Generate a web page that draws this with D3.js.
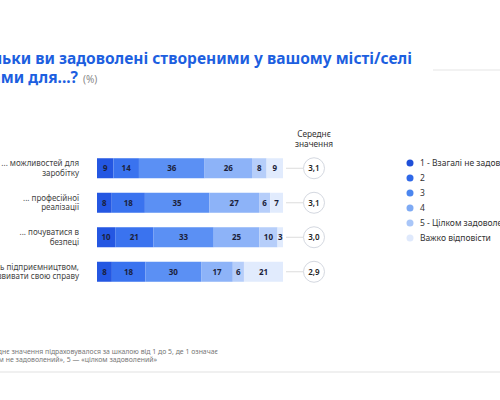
<!DOCTYPE html>
<html>
<head>
<meta charset="utf-8">
<script src="https://cdn.jsdelivr.net/npm/d3@7"></script>
<style>
  html, body { margin: 0; padding: 0; background: #fff; overflow: hidden; }
  svg { display: block; font-family: "Noto Sans", sans-serif; }
</style>
</head>
<body>
<svg id="chart" width="500" height="400"></svg>
<script>
// categories (each label split in two lines)
const categories = [
  ["... можливостей для", "заробітку"],
  ["... професійної", "реалізації"],
  ["... почуватися в", "безпеці"],
  ["... займатись підприємництвом,", "розвивати свою справу"]
];
// answer shares, %, in order 1,2,3,4,5,hard to say
const values = [
  [9, 14, 36, 26, 8, 9],
  [8, 18, 35, 27, 6, 7],
  [10, 21, 33, 25, 10, 3],
  [8, 18, 30, 17, 6, 21]
];
const averages = ["3,1", "3,1", "3,0", "2,9"];
const legendLabels = ["1 - Взагалі не задоволений", "2", "3", "4", "5 - Цілком задоволений", "Важко відповісти"];
const segColors = ["#2457e2", "#3a73ef", "#5b90f4", "#8db3f8", "#b6cefa", "#e1ebfd"];
const dotColors = ["#1f4fd8", "#2f68e8", "#4b86ef", "#7eaaf4", "#a9c6f8", "#dfe9fc"];

const svg = d3.select("#chart");

// top and bottom rules
svg.append("line").attr("x1", 433).attr("x2", 500).attr("y1", 70).attr("y2", 70)
  .attr("stroke", "#eeeeee").attr("stroke-width", 1.5);
svg.append("line").attr("x1", 0).attr("x2", 500).attr("y1", 372).attr("y2", 372)
  .attr("stroke", "#f0f0f0").attr("stroke-width", 2);

// title
svg.append("text").attr("x", 412).attr("y", 64).attr("text-anchor", "end")
  .attr("fill", "#1d5fe0").attr("font-weight", 700).attr("font-size", 15.5)
  .text("Наскільки ви задоволені створеними у вашому місті/селі");
svg.append("text").attr("x", 78).attr("y", 83).attr("text-anchor", "end")
  .attr("fill", "#1d5fe0").attr("font-weight", 700).attr("font-size", 15.5)
  .text("умовами для...?");
svg.append("text").attr("x", 83).attr("y", 83)
  .attr("fill", "#888").attr("font-size", 10)
  .text("(%)");

// layout
const y = d3.scaleBand().domain(d3.range(categories.length)).range([151, 289]).paddingInner(0.42).paddingOuter(0.21);
const barLeft = 97, barRight = 283;

const rows = svg.append("g").selectAll("g").data(values).join("g")
  .attr("transform", (d, i) => `translate(0,${y(i)})`);

rows.each(function(row, i) {
  const g = d3.select(this);
  const total = d3.sum(row);
  const x = d3.scaleLinear().domain([0, total]).range([barLeft, barRight]);
  let acc = 0;
  const segs = row.map((v, j) => { const s = { v, j, x0: acc }; acc += v; return s; });

  g.selectAll("rect").data(segs).join("rect")
    .attr("x", s => x(s.x0))
    .attr("width", s => x(s.x0 + s.v) - x(s.x0))
    .attr("y", 0).attr("height", y.bandwidth())
    .attr("fill", s => segColors[s.j]);

  g.selectAll("text.val").data(segs).join("text")
    .attr("class", "val")
    .attr("x", s => x(s.x0 + s.v / 2))
    .attr("y", y.bandwidth() / 2)
    .attr("dy", "0.35em")
    .attr("text-anchor", "middle")
    .attr("font-size", 8).attr("font-weight", 700)
    .attr("fill", "#1b1f3b")
    .text(s => s.v);

  // category label
  const lbl = g.append("text").attr("text-anchor", "end")
    .attr("font-size", 8).attr("fill", "#444");
  categories[i].forEach((line, k) => {
    lbl.append("tspan").attr("x", 79).attr("y", y.bandwidth() / 2 + (k === 0 ? -2 : 7.5)).text(line);
  });

  // average bubble
  const cy = y.bandwidth() / 2;
  g.append("line").attr("x1", 286).attr("x2", 303).attr("y1", cy).attr("y2", cy)
    .attr("stroke", "#dcdcdc").attr("stroke-width", 1);
  g.append("circle").attr("cx", 314).attr("cy", cy).attr("r", 10.5)
    .attr("fill", "#fff").attr("stroke", "#d4d8e0").attr("stroke-width", 1);
  g.append("text").attr("x", 314).attr("y", cy).attr("dy", "0.35em")
    .attr("text-anchor", "middle").attr("font-size", 8).attr("font-weight", 600)
    .attr("fill", "#222").text(averages[i]);
});

// average header
const hdr = svg.append("text").attr("text-anchor", "middle").attr("font-size", 8.3).attr("fill", "#333");
hdr.append("tspan").attr("x", 314).attr("y", 137).text("Середнє");
hdr.append("tspan").attr("x", 314).attr("y", 147).text("значення");

// legend
const ly = d3.scalePoint().domain(d3.range(legendLabels.length)).range([163, 238]);
const leg = svg.append("g").selectAll("g").data(legendLabels).join("g")
  .attr("transform", (d, i) => `translate(410,${ly(i)})`);
leg.append("circle").attr("r", 3.5).attr("fill", (d, i) => dotColors[i]);
leg.append("text").attr("x", 10).attr("dy", "0.35em").attr("font-size", 8.5).attr("fill", "#333").text(d => d);

// footnote
svg.append("text").attr("x", 218).attr("y", 354).attr("text-anchor", "end")
  .attr("font-size", 6.9).attr("fill", "#777")
  .text("* Середнє значення підраховувалося за шкалою від 1 до 5, де 1 означає");
svg.append("text").attr("x", 157).attr("y", 362).attr("text-anchor", "end")
  .attr("font-size", 6.9).attr("fill", "#777")
  .text("«зовсім не задоволений», 5 — «цілком задоволений»");
</script>
</body>
</html>
